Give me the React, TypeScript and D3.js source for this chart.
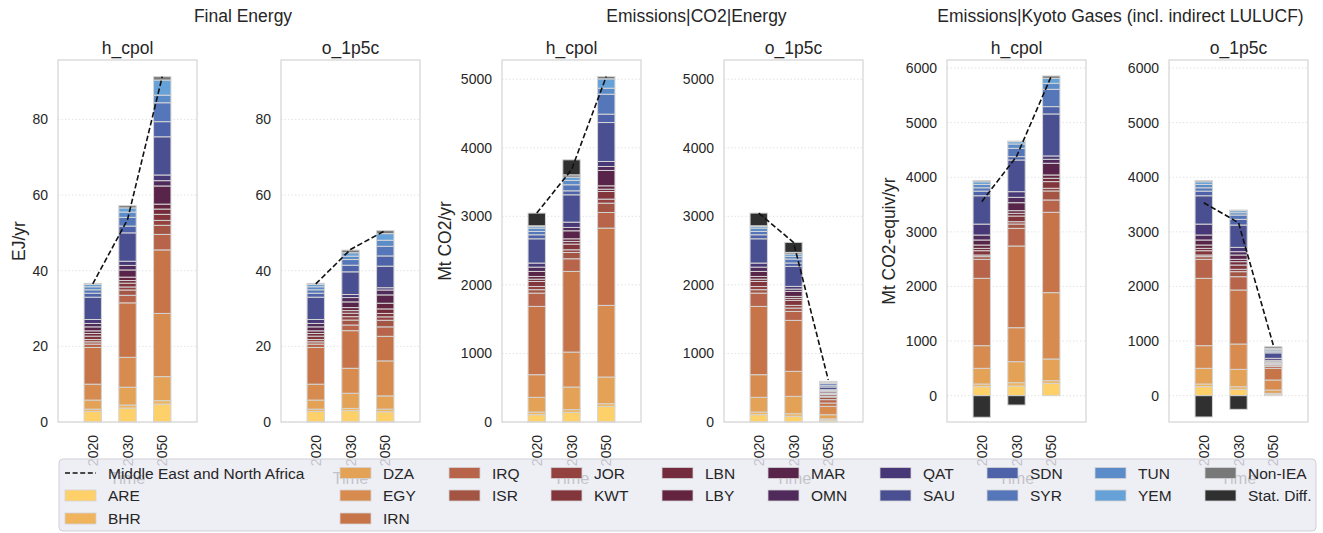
import React from 'react';
import * as d3 from 'd3';

// ---- data -------------------------------------------------------------
const years = ['2020', '2030', '2050'];

const series = [
  'ARE', 'BHR', 'DZA', 'EGY', 'IRN', 'IRQ', 'ISR', 'JOR', 'KWT', 'LBN',
  'LBY', 'MAR', 'OMN', 'QAT', 'SAU', 'SDN', 'SYR', 'TUN', 'YEM', 'Non-IEA', 'Stat. Diff.',
];

const seriesColors = [
  '#fdd06a', '#efb45c', '#e3a255', '#d88b4f', '#c77548', '#b7644a', '#a35443',
  '#94423f', '#82353b', '#742c3c', '#64243f', '#582449', '#4f2a5b', '#493877',
  '#4a4f92', '#4d62a8', '#5577b9', '#5b8bc9', '#66a1d7', '#787878', '#303030',
];

const regionLabel = 'Middle East and North Africa';
const scenarios = ['h_cpol', 'o_1p5c'];

// Final Energy [EJ/yr], one row per year, one value per series
const finalEnergyHcpol = [
  [2.8, 0.6, 2.4, 4.2, 9.7, 0.9, 0.6, 0.6, 0.9, 0.7, 0.7, 1.05, 0.9, 1.05, 5.9, 1.05, 0.9, 0.8, 0.6, 0.3, 0],
  [3.7, 0.8, 4.7, 7.9, 14.4, 2.0, 1.4, 0.8, 1.0, 0.7, 0.9, 1.9, 1.2, 1.1, 7.5, 1.8, 2.3, 1.4, 1.1, 0.6, 0],
  [4.75, 0.9, 6.35, 16.7, 16.8, 4.1, 2.4, 1.3, 1.6, 1.4, 1.3, 4.8, 1.4, 1.5, 10.1, 4.0, 5.0, 2.0, 4.0, 0.9, 0],
];
const finalEnergyO1p5c = [
  [2.8, 0.6, 2.4, 4.2, 9.7, 0.9, 0.6, 0.6, 0.9, 0.7, 0.7, 1.05, 0.9, 1.05, 5.9, 1.05, 0.9, 0.8, 0.6, 0.3, 0],
  [3.0, 0.6, 4.0, 6.6, 9.95, 1.5, 1.3, 0.9, 0.9, 0.7, 0.8, 1.5, 1.15, 0.8, 6.0, 1.75, 1.5, 0.9, 0.9, 0.7, 0],
  [2.7, 0.7, 3.5, 9.25, 6.5, 2.5, 1.75, 0.9, 0.9, 1.2, 1.5, 2.2, 1.3, 0.6, 5.7, 2.7, 2.55, 1.6, 1.75, 0.8, 0],
];
const finalEnergyRegionHcpol = [36.5, 53.5, 91.3];
const finalEnergyRegionO1p5c = [36.5, 45.6, 50.6];

// Emissions|CO2|Energy [Mt CO2/yr]
const co2Hcpol = [
  [107, 39, 214, 330, 996, 194, 50, 47, 73, 34, 39, 73, 63, 59, 354, 59, 48, 49, 24, 10, 185],
  [141, 39, 330, 510, 1176, 185, 92, 39, 83, 39, 38, 117, 49, 77, 399, 58, 88, 63, 48, 34, 219],
  [228, 39, 389, 1045, 1127, 228, 136, 59, 111, 34, 49, 224, 58, 73, 568, 122, 291, 88, 136, 34, 0],
];
const co2O1p5c = [
  [107, 39, 214, 330, 996, 194, 50, 47, 73, 34, 39, 73, 63, 59, 354, 59, 48, 49, 24, 10, 185],
  [83, 38, 253, 365, 743, 131, 49, 39, 73, 29, 29, 73, 34, 39, 292, 49, 58, 39, 34, 24, 146],
  [28, 18, 60, 122, 49, 49, 38, 15, 22, 12, 12, 22, 12, 12, 39, 20, 29, 14, 10, 10, 0],
];
const co2RegionHcpol = [3047, 3680, 5039];
const co2RegionO1p5c = [3047, 2620, 615];

// Emissions|Kyoto Gases (incl. indirect LULUCF) [Mt CO2-equiv/yr]
const kyotoHcpol = [
  [165, 49, 287, 415, 1233, 348, 49, 30, 79, 43, 61, 92, 91, 200, 519, 85, 61, 61, 49, 24, -395],
  [177, 61, 385, 622, 1496, 323, 80, 42, 104, 49, 49, 146, 98, 104, 580, 61, 152, 80, 42, 12, -171],
  [226, 49, 397, 1215, 1471, 226, 165, 49, 122, 61, 61, 214, 73, 61, 769, 134, 317, 110, 92, 43, 0],
];
const kyotoO1p5c = [
  [165, 49, 287, 415, 1233, 348, 49, 30, 79, 43, 61, 92, 91, 200, 519, 85, 61, 61, 49, 24, -390],
  [116, 49, 317, 464, 989, 244, 92, 43, 79, 61, 43, 79, 61, 79, 409, 104, 79, 43, 37, 12, -250],
  [25, 18, 61, 183, 214, 35, 26, 10, 18, 10, 12, 11, 25, 36, 100, 22, 30, 15, 16, 30, 0],
];
const kyotoRegionHcpol = [3553, 4380, 5850];
const kyotoRegionO1p5c = [3534, 3168, 928];

const groupTitles = ['Final Energy', 'Emissions|CO2|Energy', 'Emissions|Kyoto Gases (incl. indirect LULUCF)'];
const groupUnits = ['EJ/yr', 'Mt CO2/yr', 'Mt CO2-equiv/yr'];
const groupTicks = [
  [0, 20, 40, 60, 80],
  [0, 1000, 2000, 3000, 4000, 5000],
  [0, 1000, 2000, 3000, 4000, 5000, 6000],
];

// ---- layout -----------------------------------------------------------
const W = 1323;
const H = 533;
const FONT = "'Liberation Sans', Arial, Helvetica, sans-serif";
const TEXT = '#262626';
const PANEL_TOP = 60;
const PANEL_BOTTOM = 422;
const PANEL_W = 139;
const panelLefts = [58, 281, 502, 724, 947, 1169];
const groupDomains: [number, number][] = [[0, 95.7], [0, 5280], [-482, 6147]];
const groupTitleX = [243, 696.5, 1120.5];
const groupUnitX = [18.5, 445, 889];

const legendColX = [65, 340, 449, 551, 662, 768, 880, 987, 1095, 1205];
const legendRowY = [473, 495.5, 518.5];

const panelData = [
  { values: finalEnergyHcpol, region: finalEnergyRegionHcpol },
  { values: finalEnergyO1p5c, region: finalEnergyRegionO1p5c },
  { values: co2Hcpol, region: co2RegionHcpol },
  { values: co2O1p5c, region: co2RegionO1p5c },
  { values: kyotoHcpol, region: kyotoRegionHcpol },
  { values: kyotoO1p5c, region: kyotoRegionO1p5c },
];

type Row = { year: string; [k: string]: number | string };

function Panel({ index }: { index: number }) {
  const g = Math.floor(index / 2);
  const left = panelLefts[index];
  const { values, region } = panelData[index];

  const x = d3.scalePoint<string>().domain(years).range([left, left + PANEL_W]).padding(1);
  const y = d3.scaleLinear().domain(groupDomains[g]).range([PANEL_BOTTOM, PANEL_TOP]);
  const barW = x.step() * 0.5;

  const rows: Row[] = years.map((yr, i) => {
    const r: Row = { year: yr };
    series.forEach((s, j) => (r[s] = values[i][j]));
    return r;
  });
  const stacked = d3
    .stack<Row>()
    .keys(series)
    .value((d, key) => d[key] as number)
    .offset(d3.stackOffsetDiverging)(rows);

  const line = d3
    .line<number>()
    .x((_, i) => x(years[i]) as number)
    .y((v) => y(v));

  return (
    <g>
      {groupTicks[g].map((t) => (
        <line
          key={'g' + t}
          x1={left}
          x2={left + PANEL_W}
          y1={y(t)}
          y2={y(t)}
          stroke="#e3e3e3"
          strokeWidth={1}
          strokeDasharray="1.5,2"
        />
      ))}
      {stacked.map((layer, j) =>
        layer.map((seg, i) => {
          const y0 = y(seg[0]);
          const y1 = y(seg[1]);
          const h = Math.abs(y0 - y1);
          if (h < 0.01) return null;
          return (
            <rect
              key={series[j] + i}
              x={(x(years[i]) as number) - barW / 2}
              y={Math.min(y0, y1)}
              width={barW}
              height={h}
              fill={seriesColors[j]}
              stroke="#d4d4d4"
              strokeWidth={1}
            />
          );
        })
      )}
      <path d={line(region) || ''} fill="none" stroke="#111" strokeWidth={1.6} strokeDasharray="5.5,2.6" />
      <rect
        x={left}
        y={PANEL_TOP}
        width={PANEL_W}
        height={PANEL_BOTTOM - PANEL_TOP}
        fill="none"
        stroke="#d6d6d6"
        strokeWidth={1.25}
      />
      {groupTicks[g].map((t) => (
        <text
          key={'t' + t}
          x={left - 10}
          y={y(t)}
          textAnchor="end"
          dominantBaseline="central"
          fontSize={14}
          fill={TEXT}
        >
          {t}
        </text>
      ))}
      <text x={left + PANEL_W / 2} y={53.5} textAnchor="middle" fontSize={17.5} fill={TEXT}>
        {scenarios[index % 2]}
      </text>
      {years.map((yr) => (
        <text
          key={'x' + yr}
          transform={`translate(${x(yr)},435) rotate(-90)`}
          textAnchor="end"
          dominantBaseline="central"
          fontSize={14}
          fill={TEXT}
        >
          {yr}
        </text>
      ))}
      <text x={left + PANEL_W / 2} y={484} textAnchor="middle" fontSize={16.5} fill={TEXT}>
        Time
      </text>
    </g>
  );
}

function Legend() {
  const entries = [regionLabel, ...series];
  const pos = (k: number) => {
    if (k < 6) return { c: Math.floor(k / 3), r: k % 3 };
    return { c: 2 + Math.floor((k - 6) / 2), r: (k - 6) % 2 };
  };
  return (
    <g>
      <rect x={59} y={459} width={1257} height={72} rx={4} fill="#eaeaf2" fillOpacity={0.8} stroke="#cfcfd6" strokeWidth={1} />
      {entries.map((label, k) => {
        const { c, r } = pos(k);
        const sx = legendColX[c];
        const cy = legendRowY[r];
        return (
          <g key={label}>
            {k === 0 ? (
              <line x1={sx} x2={sx + 31} y1={cy} y2={cy} stroke="#111" strokeWidth={1.6} strokeDasharray="5,2.6" />
            ) : (
              <rect x={sx} y={cy - 5.5} width={31} height={11} fill={seriesColors[k - 1]} stroke="#d4d4d4" strokeWidth={0.8} />
            )}
            <text x={sx + 43} y={cy} dominantBaseline="central" fontSize={15.5} fill={TEXT}>
              {label}
            </text>
          </g>
        );
      })}
    </g>
  );
}

export default function App() {
  return (
    <svg
      width={W}
      height={H}
      viewBox={`0 0 ${W} ${H}`}
      style={{ position: 'absolute', left: 0, top: 0, background: '#fff', fontFamily: FONT }}
    >
      <rect width={W} height={H} fill="#fff" />
      {groupTitles.map((t, g) => (
        <text key={t} x={groupTitleX[g]} y={21.5} textAnchor="middle" fontSize={17.5} fill={TEXT}>
          {t}
        </text>
      ))}
      {groupUnits.map((u, g) => (
        <text
          key={u}
          transform={`translate(${groupUnitX[g]},241) rotate(-90)`}
          textAnchor="middle"
          dominantBaseline="central"
          fontSize={17.5}
          fill={TEXT}
        >
          {u}
        </text>
      ))}
      {panelData.map((_, i) => (
        <Panel key={i} index={i} />
      ))}
      <Legend />
    </svg>
  );
}
